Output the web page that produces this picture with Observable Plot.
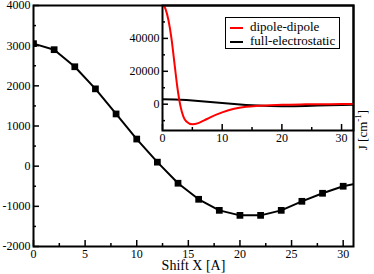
<!DOCTYPE html>
<html>
<head>
<meta charset="utf-8">
<script src="https://cdn.jsdelivr.net/npm/d3@7"></script>
<script src="https://cdn.jsdelivr.net/npm/@observablehq/plot@0.6"></script>
<style>
  body { margin: 0; background: white; }
  #wrap { position: relative; width: 374px; height: 274px; font-family: "Liberation Serif", "Times New Roman", Times, serif; }
  #wrap svg { position: absolute; left: 0; top: 0; font-family: "Liberation Serif", "Times New Roman", Times, serif !important; }
  #legend { position: absolute; left: 225px; top: 17px; width: 113px; height: 30px; border: 1.5px solid black; background: white; font-size: 13px; }
  .row { position: absolute; left: 4px; height: 14px; line-height: 14px; white-space: nowrap; }
  .swatch { display: inline-block; width: 13px; height: 2px; vertical-align: middle; margin-right: 7px; }
  #ylab { position: absolute; left: 362px; top: 130px; transform: translate(-50%, -50%) rotate(-90deg); font-size: 13px; white-space: nowrap; }
</style>
</head>
<body>
<div id="wrap">
  <div id="legend">
    <div class="row" style="top:2px"><span class="swatch" style="background:red"></span>dipole-dipole</div>
    <div class="row" style="top:16px"><span class="swatch" style="background:black"></span>full-electrostatic</div>
  </div>
  <div id="ylab">J [cm<sup style="font-size:9px">-1</sup>]</div>
</div>
<script>
// Main series: full-electrostatic coupling vs shift
const shiftX = [0, 2, 4, 6, 8, 10, 12, 14, 16, 18, 20, 22, 24, 26, 28, 30, 32];
const fullJ  = [3050, 2900, 2475, 1925, 1300, 675, 100, -425, -825, -1100, -1225, -1225, -1100, -875, -675, -500, -400];

// Inset series: dipole-dipole coupling
const ddX = [0, 0.5, 1, 1.5, 2, 2.5, 3, 3.5, 4, 5, 6, 7, 8, 10, 12, 14, 16, 18, 20, 24, 28, 32];
const ddJ = [61000, 58000, 51000, 40000, 25000, 10000, -1000, -7500, -10500, -12200, -11500, -9800, -8000, -5000, -2800, -1600, -1000, -600, -300, -100, 0, 100];

// Tick values
const mainXMajor = [0, 5, 10, 15, 20, 25, 30];
const mainXMinor = [2.5, 7.5, 12.5, 17.5, 22.5, 27.5];
const mainYMajor = [-2000, -1000, 0, 1000, 2000, 3000, 4000];
const mainYMinor = [-1500, -500, 500, 1500, 2500, 3500];
const insetXMajor = [0, 10, 20, 30];
const insetXMinor = [5, 15, 25];
const insetYMajor = [0, 20000, 40000];
const insetYMinor = [-10000, 10000, 30000, 50000];

const mainData = shiftX.map((x, i) => ({x, j: fullJ[i]}));
const ddData = ddX.map((x, i) => ({x, j: ddJ[i]}));

const serif = "Liberation Serif, Times New Roman, Times, serif";
const font = {fontFamily: serif, fontSize: "12px", background: "transparent", overflow: "visible"};
const fmt = d => String(d);

function inwardTicks(xMaj, xMin, yMaj, yMin) {
  return [
    Plot.axisX(xMaj, {anchor: "bottom", tickSize: 6, dy: -6, fill: "none", label: null, strokeWidth: 1.5}),
    Plot.axisX(xMin, {anchor: "bottom", tickSize: 3, dy: -3, fill: "none", label: null, strokeWidth: 1.5}),
    Plot.axisY(yMaj, {anchor: "left", tickSize: 6, dx: 6, fill: "none", label: null, strokeWidth: 1.5}),
    Plot.axisY(yMin, {anchor: "left", tickSize: 3, dx: 3, fill: "none", label: null, strokeWidth: 1.5}),
    Plot.axisX(xMaj, {anchor: "bottom", tickSize: 0, tickPadding: 3, label: null, fontSize: 12, fontFamily: serif, tickFormat: fmt}),
    Plot.axisY(yMaj, {anchor: "left", tickSize: 0, tickPadding: 3, label: null, fontSize: 12, fontFamily: serif, tickFormat: fmt})
  ];
}

const main = Plot.plot({
  width: 374, height: 274,
  marginLeft: 33, marginRight: 21, marginTop: 5, marginBottom: 28,
  x: {domain: [0, 31], label: null},
  y: {domain: [-2000, 4000], label: null},
  style: font,
  marks: [
    Plot.line(mainData, {x: "x", y: "j", stroke: "black", strokeWidth: 2, clip: true}),
    Plot.dot(mainData, {x: "x", y: "j", symbol: "square", r: 3.8, fill: "black", clip: true}),
    ...inwardTicks(mainXMajor, mainXMinor, mainYMajor, mainYMinor),
    Plot.text(["Shift X [A]"], {frameAnchor: "bottom", dy: 14, fontSize: 14, fontFamily: serif, lineAnchor: "top"}),
    Plot.frame({stroke: "black", strokeWidth: 2})
  ]
});

const inset = Plot.plot({
  width: 374, height: 274,
  marginLeft: 162, marginRight: 21, marginTop: 5, marginBottom: 144,
  x: {domain: [0, 32], label: null},
  y: {domain: [-16000, 60000], label: null},
  style: font,
  marks: [
    Plot.line(mainData, {x: "x", y: "j", stroke: "black", strokeWidth: 2, clip: true}),
    Plot.line(ddData, {x: "x", y: "j", stroke: "red", strokeWidth: 2, curve: "monotone-x", clip: true}),
    ...inwardTicks(insetXMajor, insetXMinor, insetYMajor, insetYMinor),
    Plot.frame({stroke: "black", strokeWidth: 2})
  ]
});

const wrap = document.getElementById("wrap");
wrap.insertBefore(inset, wrap.firstChild);
wrap.insertBefore(main, wrap.firstChild);
</script>
</body>
</html>
